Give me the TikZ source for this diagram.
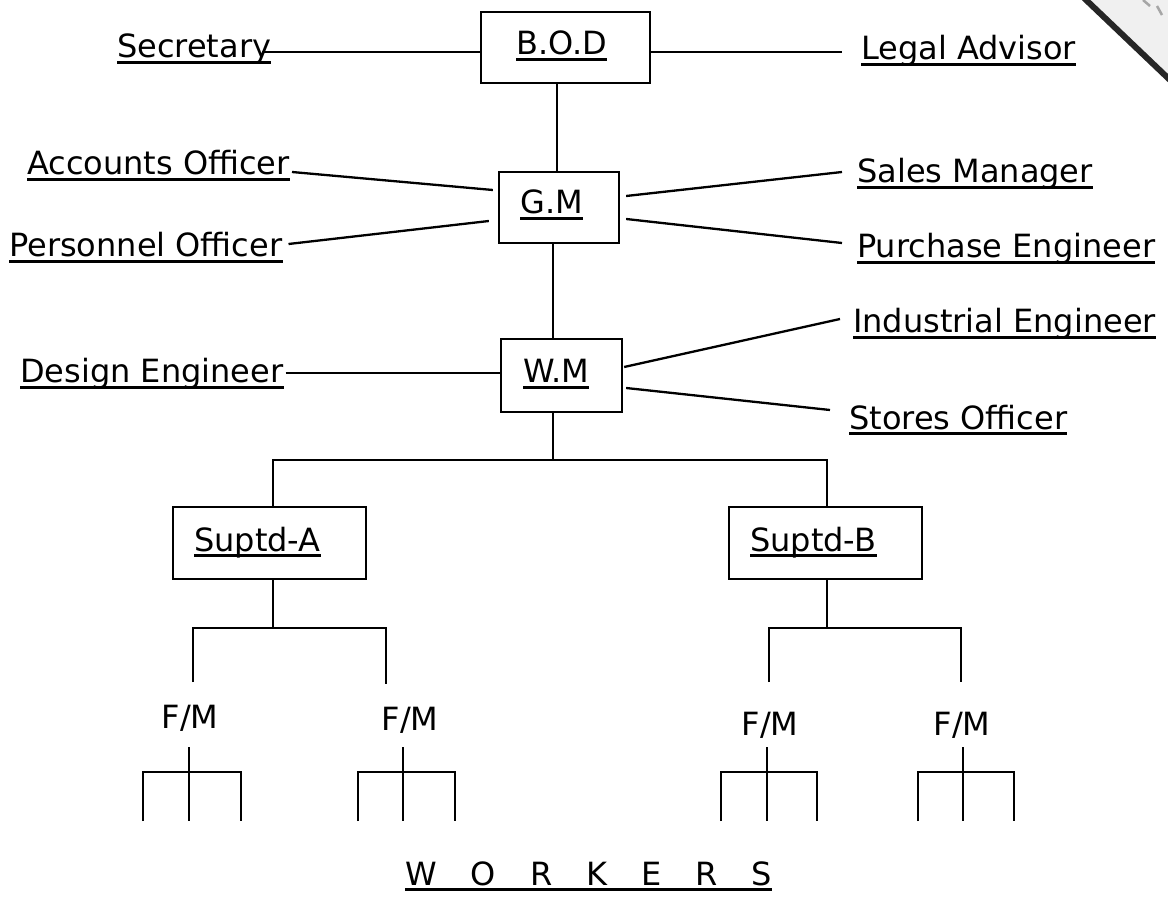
\documentclass[tikz,border=0pt]{standalone}
\usepackage{fontspec}
\setmainfont{DejaVu Sans}
\newcommand\mklab[3]{\node[lab,anchor=base west] (#1) at (#2) {#3};
  \draw[uline] ([yshift=-4.5pt]#1.base west) -- ([yshift=-4.5pt]#1.base east);}
\newcommand\mkrake[3]{\draw[conn] (#2,747) -- (#2,821);
  \draw[conn] (#1,821) -- (#1,772) -- (#3,772) -- (#3,821);}
\begin{document}
\begin{tikzpicture}[x=1pt,y=-1pt,
  lab/.style={inner sep=0pt, font=\fontsize{32}{38}\selectfont},
  box/.style={draw, line width=2.3pt, inner sep=0pt},
  conn/.style={line width=2.3pt},
  uline/.style={line width=2.3pt}]
\useasboundingbox (0,0) rectangle (1168,901);

% stamp corner
\fill[gray!12] (1086,0) -- (1168,0) -- (1168,78) -- cycle;
\draw[line width=6pt, black!85] (1084,-2) -- (1170,80);
\draw[line width=2.5pt, gray!70] (1143,0) -- (1150,6);
\draw[line width=2.5pt, gray!70] (1157,6) -- (1162,15);

% boxes
\node[box,minimum width=169pt,minimum height=71pt] (bod) at (565.5,47.5) {};
\node[box,minimum width=120pt,minimum height=71pt] (gm) at (559,207.5) {};
\node[box,minimum width=121pt,minimum height=73pt] (wm) at (561.5,375.5) {};
\node[box,minimum width=193pt,minimum height=72pt] (sa) at (269.5,543) {};
\node[box,minimum width=193pt,minimum height=72pt] (sb) at (825.5,543) {};

% box texts
\mklab{bodt}{516,55}{B.O.D}
\mklab{gmt}{520,214}{G.M}
\mklab{wmt}{523,383}{W.M}
\mklab{sat}{194,551}{Suptd-A}
\mklab{sbt}{750,551}{Suptd-B}

% staff labels
\mklab{sec}{117,58}{Secretary}
\mklab{legal}{861,60}{Legal Advisor}
\mklab{acc}{27,175}{Accounts Officer}
\mklab{pers}{9,257}{Personnel Officer}
\mklab{sales}{857,183}{Sales Manager}
\mklab{purch}{857,258}{Purchase Engineer}
\mklab{design}{20,383}{Design Engineer}
\mklab{indus}{853,333}{Industrial Engineer}
\mklab{stores}{849,429}{Stores Officer}

% foremen
\node[lab,anchor=base] (fm1) at (190,728) {F/M};
\node[lab,anchor=base] (fm2) at (410,730) {F/M};
\node[lab,anchor=base] (fm3) at (770,735) {F/M};
\node[lab,anchor=base] (fm4) at (962,735) {F/M};

% workers
\mklab{workers}{405,885}{W\hspace{34pt}O\hspace{34pt}R\hspace{34pt}K\hspace{34pt}E\hspace{34pt}R\hspace{34pt}S}

% staff connectors
\coordinate (c1) at ([xshift=-9pt,yshift=6pt]sec.base east);
\draw[conn] (c1) -- (c1 -| bod.west);
\coordinate (c2) at ([xshift=-19pt,yshift=8pt]legal.base west);
\draw[conn] (c2 -| bod.east) -- (c2);
\draw[conn] ([xshift=2pt,yshift=3pt]acc.base east) -- ([xshift=-5pt,yshift=17.5pt]gm.west);
\draw[conn] ([xshift=6pt,yshift=13pt]pers.base east) -- ([xshift=-9pt,yshift=-13.5pt]gm.west);
\draw[conn] ([xshift=6pt,yshift=11.5pt]gm.east) -- ([xshift=-15pt,yshift=11pt]sales.base west);
\draw[conn] ([xshift=6pt,yshift=-11.5pt]gm.east) -- ([xshift=-15pt,yshift=15pt]purch.base west);
\coordinate (c3) at ([xshift=2pt,yshift=10pt]design.base east);
\draw[conn] (c3) -- (c3 -| wm.west);
\draw[conn] ([xshift=1pt,yshift=8.5pt]wm.east) -- ([xshift=-13pt,yshift=14pt]indus.base west);
\draw[conn] ([xshift=3pt,yshift=-12.5pt]wm.east) -- ([xshift=-19pt,yshift=19pt]stores.base west);

% line connectors
\coordinate (xa) at (557,0);
\coordinate (xb) at (553,0);
\draw[conn] (bod.south -| xa) -- (gm.north -| xa);
\draw[conn] (gm.south -| xb) -- (wm.north -| xb);
\coordinate (j0) at (553,460);
\coordinate (ja) at (273,460);
\coordinate (jb) at (827,460);
\draw[conn] (wm.south -| j0) -- (j0);
\draw[conn] (sa.north -| ja) -- (ja) -- (jb) -- (sb.north -| jb);

% to foremen
\coordinate (ka) at (273,628);
\coordinate (da1) at (193,628);
\coordinate (da2) at (386,628);
\coordinate (e1) at (193,682);
\coordinate (e2) at (386,684);
\draw[conn] (sa.south -| ka) -- (ka);
\draw[conn] (e1) -- (da1) -- (da2) -- (e2);
\coordinate (kb) at (827,628);
\coordinate (db1) at (769,628);
\coordinate (db2) at (961,628);
\coordinate (e3) at (769,682);
\coordinate (e4) at (961,682);
\draw[conn] (sb.south -| kb) -- (kb);
\draw[conn] (e3) -- (db1) -- (db2) -- (e4);

% workers rakes
\mkrake{143}{189}{241}
\mkrake{358}{403}{455}
\mkrake{721}{767}{817}
\mkrake{918}{963}{1014}
\end{tikzpicture}
\end{document}
